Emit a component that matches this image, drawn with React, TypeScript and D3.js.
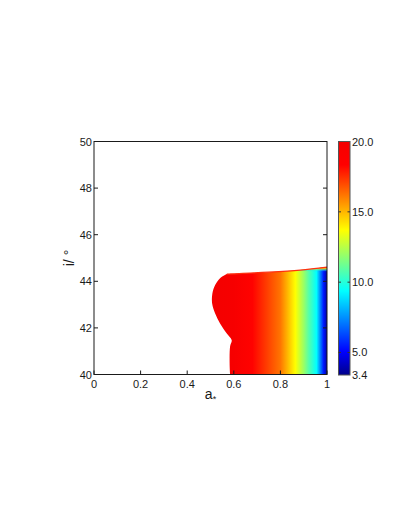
import React from "react";
import * as d3 from "d3";

// ---- data ----
const xTicks = [0, 0.2, 0.4, 0.6, 0.8, 1];
const xTickLabels = ["0", "0.2", "0.4", "0.6", "0.8", "1"];
const yTicks = [40, 42, 44, 46, 48, 50];
const yTickLabels = ["40", "42", "44", "46", "48", "50"];
const cbTicks = [20, 15, 10, 5, 3.4];
const cbTickLabels = ["20.0", "15.0", "10.0", "5.0", "3.4"];

// colormap (fraction of colour range -> colour)
const cmapFrac = [0, 0.1, 0.36, 0.62, 0.9, 1];
const cmapColors = ["#00008a", "#0000ff", "#00ffff", "#ffff00", "#ff0000", "#f40000"];
const vMin = 3.4;
const vMax = 20;

// left boundary of filled region (a*, i)
const leftA = [0.584, 0.582, 0.584, 0.591, 0.57, 0.541, 0.52, 0.507, 0.508, 0.52, 0.541, 0.57];
const leftI = [40, 40.5, 41.2, 41.47, 41.76, 42.19, 42.62, 43.05, 43.48, 43.84, 44.13, 44.31];
// top boundary (a*, i)
const topA = [0.57, 0.75, 0.885, 1.0];
const topI = [44.31, 44.39, 44.48, 44.61];

// field value along a* (horizontal colour profile)
const fieldA = [0.5, 0.6, 0.68, 0.8, 0.864, 0.9, 0.922, 0.955, 0.985, 1.0];
const fieldV = [20.0, 19.6, 18.3, 16.2, 13.7, 12.0, 10.8, 9.4, 5.5, 3.8];

// thin band of high values under the top edge (a*, thickness in degrees)
const bandA = [0.86, 0.93, 1.0];
const bandT = [0.0, 0.1, 0.2];

const W = 409;
const H = 529;

export default function App() {
  const x = d3.scaleLinear().domain([0, 1]).range([94, 327]);
  const y = d3.scaleLinear().domain([40, 50]).range([374.5, 141.5]);
  const cb = d3.scaleLinear().domain([vMin, vMax]).range([375, 141.5]);
  const color = d3
    .scaleLinear<string>()
    .domain(cmapFrac.map((f) => vMin + (vMax - vMin) * f))
    .range(cmapColors)
    .interpolate(d3.interpolateRgb);

  const leftPts: [number, number][] = leftA.map((a, k) => [x(a), y(leftI[k])]);
  const topPts: [number, number][] = topA.map((a, k) => [x(a), y(topI[k])]);
  const curve = d3.line().curve(d3.curveCatmullRom.alpha(0.5));
  const leftPath = curve(leftPts) as string;
  const topPath = curve(topPts) as string;
  const regionPath = leftPath + topPath.replace(/^M/, "L") + `L${x(1)},${y(40)}Z`;

  const xL = x(0.5);
  const xR = x(1);
  const cbX0 = 338.5;
  const cbX1 = 350;
  const font = "'Liberation Sans', Arial, Helvetica, sans-serif";
  const ink = "#1a1a1a";

  const topAt = (a: number) => {
    let k = 1;
    while (k < topA.length - 1 && topA[k] < a) k++;
    const t = (a - topA[k - 1]) / (topA[k] - topA[k - 1]);
    return topI[k - 1] + t * (topI[k] - topI[k - 1]);
  };
  const bandUpper = bandA.map((a) => [x(a), y(topAt(a))] as [number, number]);
  const bandLower = bandA
    .map((a, k) => [x(a), y(topAt(a) - bandT[k])] as [number, number])
    .reverse();
  const bandPath = d3.line()([...bandUpper, ...bandLower]) + "Z";

  return (
    <svg
      width={W}
      height={H}
      style={{ position: "absolute", left: 0, top: 0, background: "#fff" }}
      fontFamily={font}
    >
      <defs>
        <linearGradient id="field" gradientUnits="userSpaceOnUse" x1={xL} x2={xR} y1={0} y2={0}>
          {fieldA.map((a, k) => (
            <stop key={k} offset={(x(a) - xL) / (xR - xL)} stopColor={color(fieldV[k])} />
          ))}
        </linearGradient>
        <linearGradient id="cbar" gradientUnits="userSpaceOnUse" x1={0} x2={0} y1={cb(vMin)} y2={cb(vMax)}>
          {cmapFrac.map((f, k) => (
            <stop key={k} offset={f} stopColor={cmapColors[k]} />
          ))}
        </linearGradient>
        <linearGradient id="band" x1={0} x2={0} y1={0} y2={1}>
          <stop offset={0} stopColor="#ff2000" stopOpacity={1} />
          <stop offset={0.3} stopColor="#ffd000" stopOpacity={0.9} />
          <stop offset={0.65} stopColor="#40ffc0" stopOpacity={0.6} />
          <stop offset={1} stopColor="#00a0ff" stopOpacity={0} />
        </linearGradient>
        <clipPath id="plotclip">
          <rect x={x(0)} y={y(50)} width={x(1) - x(0)} height={y(40) - y(50)} />
        </clipPath>
      </defs>

      <g clipPath="url(#plotclip)">
        <path d={regionPath} fill="url(#field)" />
        <path d={bandPath} fill="url(#band)" />
        <path d={topPath} fill="none" stroke="#ff3010" strokeWidth={1.2} />
      </g>

      <rect
        x={x(0)}
        y={y(50)}
        width={x(1) - x(0)}
        height={y(40) - y(50)}
        fill="none"
        stroke={ink}
        strokeWidth={1}
      />
      {xTicks.map((t, k) => (
        <g key={"x" + k}>
          <line x1={x(t)} x2={x(t)} y1={y(40)} y2={y(40) - 4} stroke={ink} />
          <text x={x(t)} y={y(40) + 13} fontSize={11} textAnchor="middle" fill={ink}>
            {xTickLabels[k]}
          </text>
        </g>
      ))}
      {yTicks.map((t, k) => (
        <g key={"y" + k}>
          <line x1={x(0)} x2={x(0) + 4} y1={y(t)} y2={y(t)} stroke={ink} />
          <line x1={x(1)} x2={x(1) - 4} y1={y(t)} y2={y(t)} stroke={ink} />
          <text x={x(0) - 2} y={y(t) + 4} fontSize={11} textAnchor="end" fill={ink}>
            {yTickLabels[k]}
          </text>
        </g>
      ))}
      <text x={210.5} y={399} fontSize={14} textAnchor="middle" fill={ink}>
        a<tspan fontSize={9} dy={3}>*</tspan>
      </text>
      <text
        transform={`translate(74,${(y(40) + y(50)) / 2}) rotate(-90)`}
        fontSize={14}
        textAnchor="middle"
        fill={ink}
      >
        i/ °
      </text>

      <rect
        x={cbX0}
        y={cb(vMax)}
        width={cbX1 - cbX0}
        height={cb(vMin) - cb(vMax)}
        fill="url(#cbar)"
        stroke="#555"
        strokeWidth={1}
      />
      {cbTicks.map((t, k) => (
        <g key={"c" + k}>
          {t !== vMax && t !== vMin && (
            <>
              <line x1={cbX0} x2={cbX0 + 2.5} y1={cb(t)} y2={cb(t)} stroke="#333" />
              <line x1={cbX1} x2={cbX1 - 2.5} y1={cb(t)} y2={cb(t)} stroke="#333" />
            </>
          )}
          <text x={cbX1 + 2} y={cb(t) + 4} fontSize={11} fill={ink}>
            {cbTickLabels[k]}
          </text>
        </g>
      ))}
    </svg>
  );
}
